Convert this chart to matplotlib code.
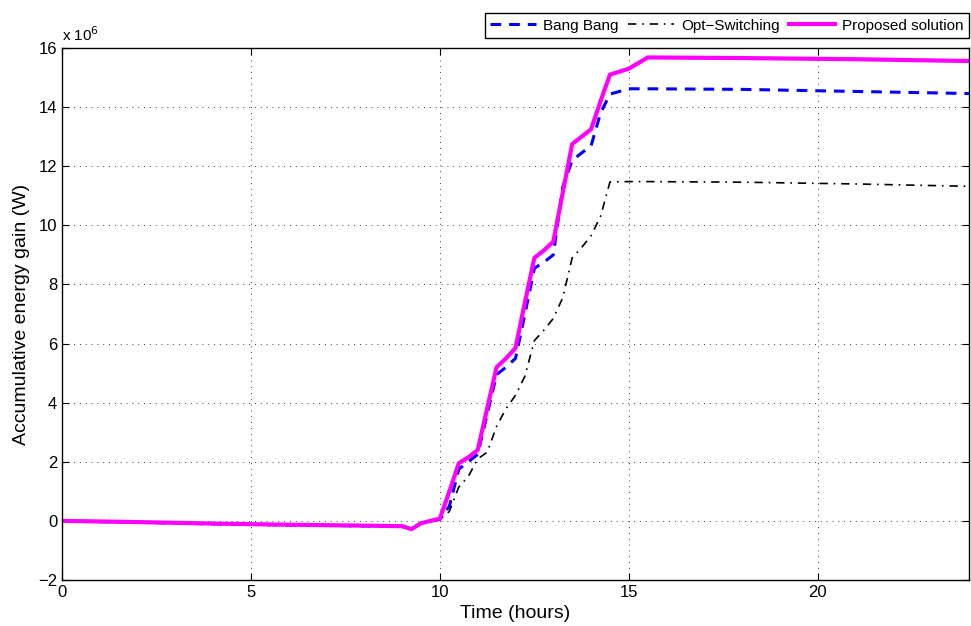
import numpy as np
import matplotlib
matplotlib.use("Agg")
import matplotlib.pyplot as plt

plt.rcParams['font.family'] = ['Liberation Sans', 'DejaVu Sans']

# time in hours, energy in units of 1e6
hours = [0, 2, 4, 6, 8, 9, 9.25, 9.5, 10, 10.25, 10.5, 10.75, 11, 11.25, 11.5, 11.75,
         12, 12.25, 12.5, 12.75, 13, 13.25, 13.5, 13.75, 14, 14.25, 14.5, 15, 15.5, 18, 21, 24]

bang_bang = [0, -0.05, -0.10, -0.14, -0.17, -0.19, -0.25, -0.08, 0.05, 0.50, 1.75, 2.00, 2.25, 3.60,
             4.95, 5.20, 5.50, 7.00, 8.55, 8.75, 9.00, 11.30, 12.20, 12.45, 12.69, 13.80, 14.44,
             14.62, 14.62, 14.60, 14.53, 14.46]

opt_switching = [0, -0.05, -0.10, -0.14, -0.17, -0.19, -0.25, -0.08, 0.05, 0.32, 1.15, 1.50, 2.10, 2.32,
                 3.20, 3.80, 4.25, 4.90, 6.10, 6.45, 6.85, 7.55, 8.90, 9.25, 9.65, 10.30, 11.47,
                 11.48, 11.48, 11.46, 11.40, 11.32]

proposed = [0, -0.04, -0.09, -0.13, -0.16, -0.18, -0.28, -0.08, 0.08, 1.00, 1.95, 2.15, 2.40, 3.80,
            5.20, 5.50, 5.85, 7.40, 8.90, 9.15, 9.45, 11.10, 12.75, 13.00, 13.25, 14.20, 15.10,
            15.30, 15.68, 15.66, 15.62, 15.56]

fig = plt.figure(figsize=(9.71, 6.26), dpi=100)
ax = fig.add_axes([62 / 971, 1 - 580 / 626, 907 / 971, 532 / 626])

ax.plot(hours, bang_bang, color='#0000ff', lw=2.2, dashes=(3.5, 2.6), label='Bang Bang')
ax.plot(hours, opt_switching, color='black', lw=1.2, dashes=(5, 3.5, 1, 3.5), label='Opt\u2212Switching')
ax.plot(hours, proposed, color='#ff00ff', lw=3, label='Proposed solution')

ax.set_xlim(0, 24)
ax.set_ylim(-2, 16)
ax.set_xticks([0, 5, 10, 15, 20])
ax.set_yticks(np.arange(-2, 17, 2))
ax.set_yticklabels(['\u22122'] + [str(v) for v in range(0, 17, 2)])
ax.tick_params(direction='in', top=True, right=True, length=5, labelsize=12)
ax.grid(True, color='black', linestyle=(0, (1, 6)), linewidth=0.6)
for s in ax.spines.values():
    s.set_linewidth(1.0)

ax.set_xlabel('Time (hours)', fontsize=14, labelpad=4)
ax.set_ylabel('Accumulative energy gain (W)', fontsize=14, labelpad=6)
ax.text(0, 1.008, 'x 10$^6$', transform=ax.transAxes, fontsize=11, va='bottom', ha='left')

leg = ax.legend(loc='lower right', bbox_to_anchor=(1.0, 1.019), ncol=3, frameon=True,
                fancybox=False, edgecolor='black', framealpha=1, fontsize=11,
                borderaxespad=0, handlelength=3.0, columnspacing=0.65, handletextpad=0.45,
                borderpad=0.35)
leg.get_frame().set_linewidth(1.0)

fig.savefig('out.png', dpi=100)
